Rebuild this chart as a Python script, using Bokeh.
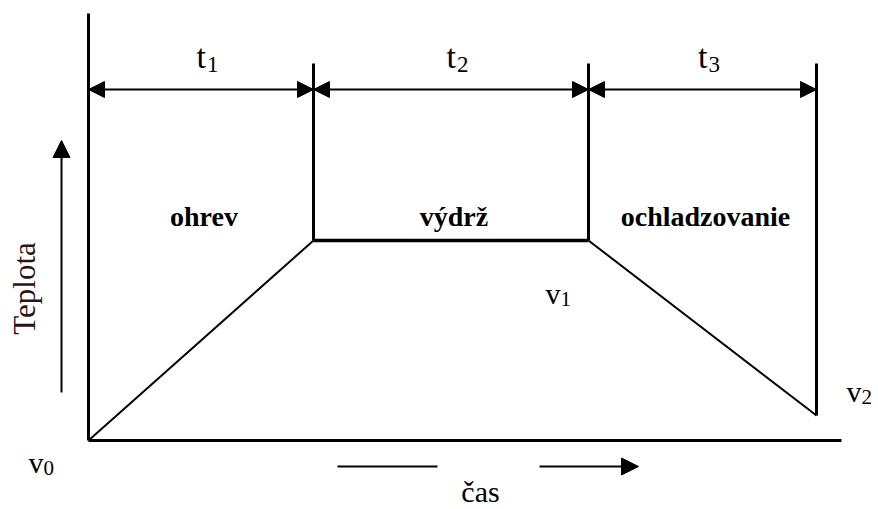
import math
from bokeh.plotting import figure
from bokeh.models import Range1d, ColumnDataSource, Arrow, NormalHead
from bokeh.core.properties import value
from bokeh.embed import file_html
from bokeh.resources import INLINE

# ---- data -------------------------------------------------------------
phase_names = ["ohrev", "výdrž", "ochladzovanie"]
phase_bounds = [0, 225, 500, 728]          # time at the phase boundaries
temp_profile = [0, 200, 200, 25]           # temperature at those times
time_symbols = ["t", "t", "t"]
time_subs = ["1", "2", "3"]
temp_symbols = ["v", "v", "v"]
temp_subs = ["0", "1", "2"]
y_axis_label = "Teplota"
x_axis_label = "čas"

SERIF = value("Liberation Serif")

p = figure(width=878, height=509, output_backend="svg", toolbar_location=None,
           x_range=Range1d(-88, 790), y_range=Range1d(-69, 440),
           min_border=0)
p.axis.visible = False
p.grid.visible = False
p.outline_line_color = None
p.background_fill_color = "white"
p.border_fill_color = "white"

t_end = phase_bounds[-1]
top_line = 377
dim_y = 351

# axes
p.line([0, 0], [0, 427], line_width=3, color="black")
p.line([0, t_end + 25], [0, 0], line_width=3, color="black")

# boundary verticals
for t, v in zip(phase_bounds[1:], temp_profile[1:]):
    p.line([t, t], [v, top_line], line_width=3, color="black")

# temperature profile
p.line(phase_bounds[:2], temp_profile[:2], line_width=2, color="black")
p.line(phase_bounds[1:3], temp_profile[1:3], line_width=3.5, color="black")
p.line(phase_bounds[2:], temp_profile[2:], line_width=2, color="black")

# dimension arrows
dim_src = ColumnDataSource(dict(x0=phase_bounds[:-1], x1=phase_bounds[1:],
                                y=[dim_y] * 3))
p.add_layout(Arrow(x_start="x0", y_start="y", x_end="x1", y_end="y",
                   source=dim_src, line_width=2, line_color="black",
                   start=NormalHead(size=16, fill_color="black", line_color="black", line_width=1),
                   end=NormalHead(size=16, fill_color="black", line_color="black", line_width=1)))

mids = [(a + b) / 2 for a, b in zip(phase_bounds[:-1], phase_bounds[1:])]

# t labels
p.text([m + 5 for m in mids], [384] * 3, text=time_symbols, text_font=SERIF,
       text_font_size="34px", text_align="right", text_baseline="alphabetic",
       text_color="black")
p.text([m + 6 for m in mids], [376] * 3, text=time_subs, text_font=SERIF,
       text_font_size="23px", text_align="left", text_baseline="alphabetic",
       text_color="black")

# phase names
p.text([m + 3 for m in mids], [224] * 3, text=phase_names, text_font=SERIF,
       text_font_size="28px", text_font_style="bold", text_align="center",
       text_baseline="alphabetic", text_color="black")

# v labels
v_x = [phase_bounds[0] - 60, phase_bounds[2] - 43, phase_bounds[3] + 30]
v_y = [temp_profile[0] - 22, temp_profile[2] - 53, temp_profile[3] + 24]
p.text(v_x, v_y, text=temp_symbols, text_font=SERIF, text_font_size="30px",
       text_align="left", text_baseline="alphabetic", text_color="black")
p.text([x + 15 for x in v_x], [y - 5 for y in v_y], text=temp_subs, text_font=SERIF,
       text_font_size="21px", text_align="left", text_baseline="alphabetic",
       text_color="black")

# y axis label and arrow
p.text([-64], [152], text=[y_axis_label], text_font=SERIF, text_font_size="31px",
       angle=math.pi / 2, text_align="center", text_baseline="middle",
       text_color="#2a1414")
p.add_layout(Arrow(x_start=-27, y_start=48, x_end=-27, y_end=300, line_width=2,
                   line_color="black",
                   end=NormalHead(size=17, fill_color="black", line_color="black", line_width=1)))

# x axis label and arrow
p.line([249, 349], [-26, -26], line_width=2, color="black")
p.add_layout(Arrow(x_start=451, y_start=-26, x_end=550, y_end=-26, line_width=2,
                   line_color="black",
                   end=NormalHead(size=17, fill_color="black", line_color="black", line_width=1)))
p.text([392], [-67], text=[x_axis_label], text_font=SERIF, text_font_size="30px",
       text_align="center", text_baseline="bottom", text_color="black")

open("out.html", "w").write(file_html(p, INLINE))
